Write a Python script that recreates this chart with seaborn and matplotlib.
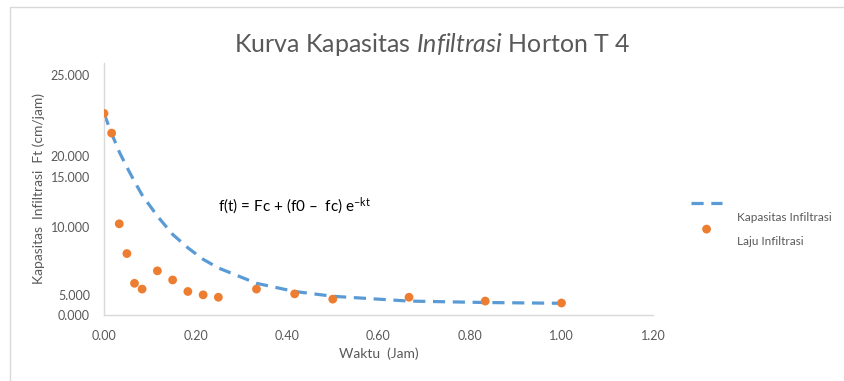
import numpy as np
import pandas as pd
import matplotlib
matplotlib.use("Agg")
import matplotlib.pyplot as plt
import matplotlib.transforms as mtransforms
import seaborn as sns
from matplotlib.patches import Rectangle

# ---- data ----
waktu_jam = [0.0, 0.0167, 0.0333, 0.05, 0.0667, 0.0833, 0.1167, 0.15, 0.1833,
             0.2167, 0.25, 0.3333, 0.4167, 0.5, 0.6667, 0.8333, 1.0]
laju_infiltrasi = [21.0, 18.95, 9.5, 6.4, 3.3, 2.7, 4.6, 3.65, 2.45,
                   2.1, 1.85, 2.7, 2.2, 1.65, 1.85, 1.45, 1.25]
kapasitas_infiltrasi = [21.0, 18.9, 17.0, 15.4, 13.9, 12.5, 10.3, 8.4, 7.0,
                        5.8, 4.9, 3.3, 2.45, 1.95, 1.45, 1.3, 1.22]
xtick_vals = [0.0, 0.2, 0.4, 0.6, 0.8, 1.0, 1.2]
xtick_labels = ["0.00", "0.20", "0.40", "0.60", "0.80", "1.00", "1.20"]
ytick_vals = [0.0, 2.1, 9.2, 14.4, 16.6, 25.0]
ytick_labels = ["0.000", "5.000", "10.000", "15.000", "20.000", "25.000"]

df = pd.DataFrame({"t": waktu_jam, "laju": laju_infiltrasi, "kap": kapasitas_infiltrasi})

sns.set_theme(style="white")
plt.rcParams["font.family"] = ["Lato", "DejaVu Sans"]
plt.rcParams["mathtext.fontset"] = "custom"
plt.rcParams["mathtext.rm"] = "Lato"
plt.rcParams["mathtext.it"] = "Lato:italic"
plt.rcParams["mathtext.bf"] = "Lato:bold"

grey = "#595959"
fig = plt.figure(figsize=(8.45, 3.81), dpi=100)
ax = fig.add_axes([104 / 845, 1 - 315 / 381, (653 - 104) / 845, (315 - 63) / 381])

sns.lineplot(data=df, x="t", y="kap", ax=ax, color="#5b9bd5", linewidth=2.3,
             sort=False, label="Kapasitas Infiltrasi")
ax.lines[0].set_dashes((3.8, 2.4))
sns.scatterplot(data=df, x="t", y="laju", ax=ax, color="#ed7d31", s=40,
                edgecolor="none", label="Laju Infiltrasi", zorder=3)

ax.set_xlim(0, 1.2)
ax.set_ylim(0, 26.25)
ax.set_xticks(xtick_vals)
ax.set_xticklabels(xtick_labels)
ax.set_yticks(ytick_vals)
ax.set_yticklabels(ytick_labels)
ax.tick_params(axis="both", length=0, labelsize=9, colors=grey)
ax.tick_params(axis="y", pad=10)
ax.tick_params(axis="x", pad=11)

for s in ["top", "right"]:
    ax.spines[s].set_visible(False)
for s in ["left", "bottom"]:
    ax.spines[s].set_color("#d9d9d9")
    ax.spines[s].set_linewidth(1.0)

ax.set_xlabel("Waktu  (Jam)", fontsize=10, color=grey, labelpad=4)
ax.set_ylabel("Kapasitas  Infiltrasi  Ft (cm/jam)", fontsize=10, color=grey, labelpad=4)

fig.text(432 / 845, 1 - 45 / 381, r"Kurva Kapasitas $\mathit{Infiltrasi}$ Horton T 4",
         ha="center", va="center", fontsize=18, color=grey)

ax.text(0.249, 11.3, r"f(t) = Fc + (f0 –  fc) e$^{\mathrm{-kt}}$", fontsize=11,
        color="black", ha="left", va="center")

leg = ax.legend(loc="upper left", bbox_to_anchor=(680 / 845, 1 - 188 / 381),
                bbox_transform=fig.transFigure, frameon=False, fontsize=8.5,
                handlelength=2.7, handletextpad=1.2, labelspacing=1.15)
shift = mtransforms.ScaledTranslation(0, -13 / 100, fig.dpi_scale_trans)
for t in leg.get_texts():
    t.set_color(grey)
    t.set_transform(t.get_transform() + shift)

fig.add_artist(Rectangle((10 / 845, -0.1), 1.0, 1 - 7 / 381 + 0.1, transform=fig.transFigure,
                         fill=False, edgecolor="#d9d9d9", linewidth=1.0))

fig.savefig("out.png", dpi=100)
